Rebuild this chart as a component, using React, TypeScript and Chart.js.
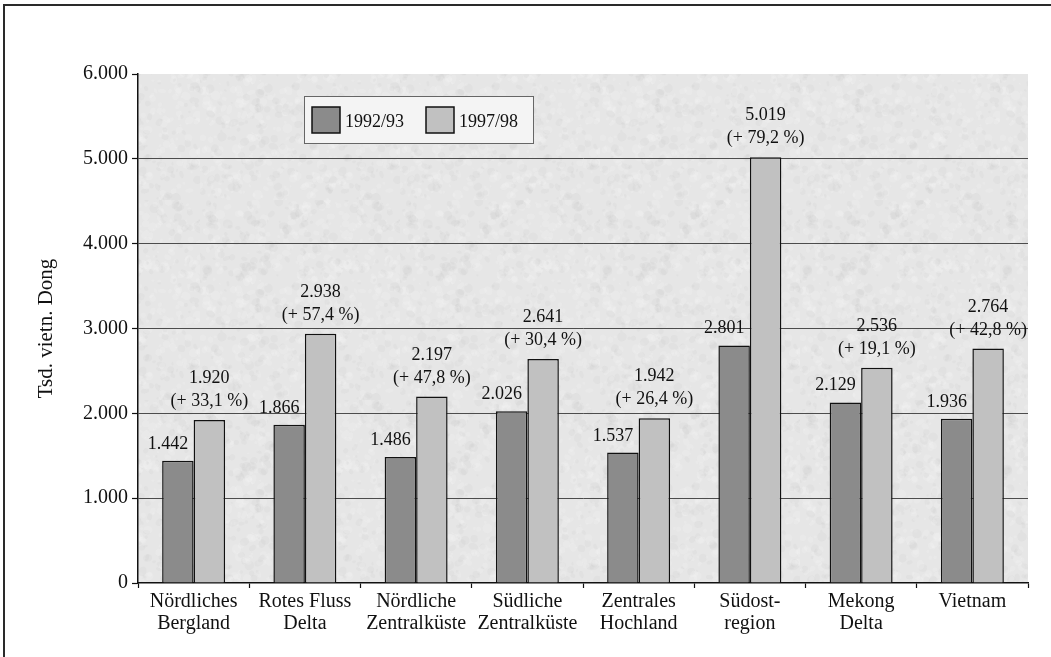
import React, { useEffect, useRef } from "react";
import { Chart, registerables } from "chart.js";

Chart.register(...registerables);

const categories: string[][] = [
  ["Nördliches", "Bergland"],
  ["Rotes Fluss", "Delta"],
  ["Nördliche", "Zentralküste"],
  ["Südliche", "Zentralküste"],
  ["Zentrales", "Hochland"],
  ["Südost-", "region"],
  ["Mekong", "Delta"],
  ["Vietnam"],
];
const seriesNames = ["1992/93", "1997/98"];
const values9293 = [1442, 1866, 1486, 2026, 1537, 2801, 2129, 1936];
const values9798 = [1920, 2938, 2197, 2641, 1942, 5019, 2536, 2764];
const growthLabels = ["+ 33,1 %", "+ 57,4 %", "+ 47,8 %", "+ 30,4 %", "+ 26,4 %", "+ 79,2 %", "+ 19,1 %", "+ 42,8 %"];
const yTicks = [0, 1000, 2000, 3000, 4000, 5000, 6000];
const yTitle = "Tsd. vietn. Dong";

const SERIF = "'Liberation Serif', 'Times New Roman', serif";
const DARK = "#8b8b8b";
const LIGHT = "#c1c1c1";
const INK = "#111111";

const fmt = (v: number) => {
  const s = String(Math.round(v));
  return s.replace(/\B(?=(\d{3})+(?!\d))/g, ".");
};

function makeTexture(): CanvasPattern | string {
  const c = document.createElement("canvas");
  c.width = 200;
  c.height = 200;
  const g = c.getContext("2d");
  if (!g) return "#e6e6e6";
  g.fillStyle = "#e6e6e6";
  g.fillRect(0, 0, 200, 200);
  let seed = 98765;
  const rnd = () => {
    seed = (seed * 1103515245 + 12345) & 0x7fffffff;
    return seed / 0x7fffffff;
  };
  for (let i = 0; i < 900; i++) {
    const x = rnd() * 200;
    const y = rnd() * 200;
    const r = 1 + rnd() * 4;
    const light = rnd() > 0.4;
    g.fillStyle = light ? "rgba(248,248,248,0.22)" : "rgba(200,200,200,0.16)";
    g.beginPath();
    g.ellipse(x, y, r, r * (0.5 + rnd() * 0.6), rnd() * Math.PI, 0, Math.PI * 2);
    g.fill();
  }
  const ctx = document.createElement("canvas").getContext("2d");
  const p = ctx ? ctx.createPattern(c, "repeat") : null;
  return p || "#e6e6e6";
}

export default function App() {
  const ref = useRef<HTMLCanvasElement | null>(null);

  useEffect(() => {
    if (!ref.current) return;
    const texture = makeTexture();

    const framePlugin = {
      id: "frameBg",
      beforeDraw(chart: any) {
        const { ctx, chartArea, width, height } = chart;
        ctx.save();
        ctx.fillStyle = "#ffffff";
        ctx.fillRect(0, 0, width, height);
        ctx.strokeStyle = "#2a2a2a";
        ctx.lineWidth = 2;
        ctx.beginPath();
        ctx.moveTo(width, 5);
        ctx.lineTo(4, 5);
        ctx.lineTo(4, height);
        ctx.stroke();
        ctx.fillStyle = texture as any;
        ctx.fillRect(chartArea.left, chartArea.top, chartArea.right - chartArea.left, chartArea.bottom - chartArea.top);
        ctx.translate(46, (chartArea.top + chartArea.bottom) / 2);
        ctx.rotate(-Math.PI / 2);
        ctx.fillStyle = INK;
        ctx.font = `21px ${SERIF}`;
        ctx.textAlign = "center";
        ctx.textBaseline = "middle";
        ctx.fillText(yTitle, 0, 0);
        ctx.restore();
      },
    };

    const labelPlugin = {
      id: "barLabels",
      afterDatasetsDraw(chart: any) {
        const { ctx } = chart;
        ctx.save();
        ctx.fillStyle = INK;
        ctx.font = `18px ${SERIF}`;
        ctx.textAlign = "center";
        ctx.textBaseline = "alphabetic";
        const m0 = chart.getDatasetMeta(0);
        const m1 = chart.getDatasetMeta(1);
        m0.data.forEach((el: any, i: number) => {
          ctx.fillText(fmt(values9293[i]), el.x - 10, el.y - 12);
        });
        m1.data.forEach((el: any, i: number) => {
          ctx.fillText(`(${growthLabels[i]})`, el.x, el.y - 14);
          ctx.fillText(fmt(values9798[i]), el.x, el.y - 37);
        });
        ctx.restore();
      },
      afterDraw(chart: any) {
        const { ctx } = chart;
        ctx.save();
        ctx.fillStyle = "#f4f4f4";
        ctx.fillRect(304, 96, 229, 47);
        ctx.strokeStyle = "#666";
        ctx.lineWidth = 1;
        ctx.strokeRect(304.5, 96.5, 229, 47);
        const items = [
          { x: 312, color: DARK, text: seriesNames[0] },
          { x: 426, color: LIGHT, text: seriesNames[1] },
        ];
        ctx.font = `18px ${SERIF}`;
        ctx.textAlign = "left";
        ctx.textBaseline = "alphabetic";
        items.forEach((it) => {
          ctx.fillStyle = it.color;
          ctx.fillRect(it.x, 107, 28, 26);
          ctx.strokeStyle = INK;
          ctx.lineWidth = 1.5;
          ctx.strokeRect(it.x, 107, 28, 26);
          ctx.fillStyle = INK;
          ctx.fillText(it.text, it.x + 33, 127);
        });
        ctx.restore();
      },
    };

    const chart = new Chart(ref.current, {
      type: "bar",
      data: {
        labels: categories,
        datasets: [
          {
            label: seriesNames[0],
            data: values9293,
            backgroundColor: DARK,
            borderColor: INK,
            borderWidth: 1.5,
            categoryPercentage: 0.566,
            barPercentage: 1,
          },
          {
            label: seriesNames[1],
            data: values9798,
            backgroundColor: LIGHT,
            borderColor: INK,
            borderWidth: 1.5,
            categoryPercentage: 0.566,
            barPercentage: 1,
          },
        ],
      },
      options: {
        responsive: false,
        animation: false,
        events: [],
        layout: { padding: { top: 74, right: 23, left: 0, bottom: 0 } },
        plugins: {
          legend: { display: false },
          tooltip: { enabled: false },
        },
        scales: {
          x: {
            grid: {
              offset: true,
              drawOnChartArea: false,
              drawTicks: true,
              tickLength: 5,
              tickColor: INK,
              tickWidth: 1.2,
            },
            border: { color: INK, width: 1.5 },
            ticks: {
              color: INK,
              font: { family: SERIF, size: 20, lineHeight: 1.08 },
              padding: 3,
              maxRotation: 0,
              minRotation: 0,
              autoSkip: false,
            },
            afterFit(axis: any) {
              axis.height = 657 - 583;
            },
          },
          y: {
            min: 0,
            max: 6000,
            afterBuildTicks(axis: any) {
              axis.ticks = yTicks.map((v) => ({ value: v }));
            },
            ticks: {
              color: INK,
              font: { family: SERIF, size: 20 },
              padding: 4,
              callback: (v: any) => fmt(Number(v)),
            },
            grid: {
              color: (c: any) =>
                c.tick && (c.tick.value === 0 || c.tick.value === 6000) ? "rgba(0,0,0,0)" : "#4c4c4c",
              lineWidth: 1,
              drawTicks: true,
              tickLength: 6,
              tickColor: INK,
              tickWidth: 1.2,
            },
            border: { color: INK, width: 1.5 },
            afterFit(axis: any) {
              axis.width = 138;
            },
          },
        },
      },
      plugins: [framePlugin, labelPlugin],
    });

    return () => chart.destroy();
  }, []);

  return (
    <div style={{ position: "fixed", left: 0, top: 0, width: 1051, height: 657, background: "#fff" }}>
      <canvas ref={ref} width={1051} height={657} style={{ display: "block" }} />
    </div>
  );
}
